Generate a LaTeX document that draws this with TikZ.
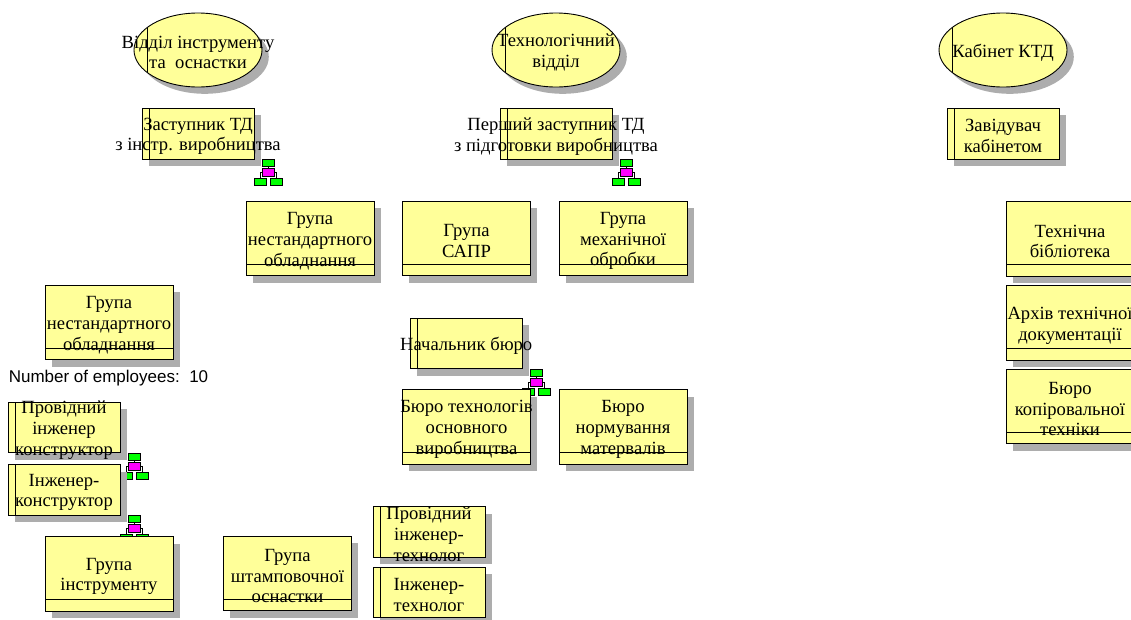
\documentclass[tikz,border=0pt]{standalone}
\usepackage{fontspec}
\setmainfont{Liberation Serif}
\newfontfamily\numfont{Liberation Sans}
\usetikzlibrary{shadows,shapes.geometric}
\definecolor{boxfill}{HTML}{FFFF99}
\definecolor{shadowgray}{HTML}{ADADAD}
\definecolor{icongreen}{HTML}{00FF00}
\definecolor{iconmag}{HTML}{FF00FF}
\tikzset{
  base/.style={draw=black,line width=0.9pt,fill=boxfill,inner sep=0pt,outer sep=0pt,
    general shadow={fill=shadowgray,shadow xshift=6.8pt,shadow yshift=-6.8pt}},
  txt/.style={align=center,inner sep=0pt,yshift=-2.5pt,font=\fontsize{18.6}{20.8}\selectfont,text=black},
  unitnode/.style={base,ellipse,minimum width=128pt,minimum height=74pt,
    path picture={\draw[line width=0.9pt] ([xshift=13.5pt]path picture bounding box.north west) -- ([xshift=13.5pt]path picture bounding box.south west);}},
  headnode/.style={base,rectangle,minimum width=112pt,minimum height=50.5pt,
    path picture={\draw[line width=0.9pt] ([xshift=7pt]path picture bounding box.north west) -- ([xshift=7pt]path picture bounding box.south west);}},
  groupnode/.style={base,rectangle,minimum width=128pt,minimum height=74.5pt,
    path picture={\draw[line width=0.9pt] ([yshift=11.5pt]path picture bounding box.south west) -- ([yshift=11.5pt]path picture bounding box.south east);}},
  ibox/.style={draw=black,line width=0.9pt,inner sep=0pt,outer sep=0pt,minimum width=12pt,minimum height=7.5pt},
  pics/orgicon/.style={code={
    \node[ibox,fill=icongreen] (t) at (0,3.75) {};
    \node[ibox,fill=icongreen] (l) at (-8,23) {};
    \node[ibox,fill=icongreen] (r) at (8.3,23) {};
    \node[ibox,fill=iconmag] (m) at (0,13.5) {};
    \begin{pgfonlayer}{bg}
    \draw[line width=0.9pt] (t) -- (m);
    \draw[line width=0.9pt] (l.north) |- (m.center) -| (r.north);
    \end{pgfonlayer}
  }}
}
\pgfdeclarelayer{bg}
\pgfsetlayers{bg,main}
\begin{document}
\begin{tikzpicture}[x=1pt,y=-1pt]
\useasboundingbox (0,0) rectangle (1131,619);
\pic (ia) at (268.25,159) {orgicon};
\pic (ib) at (626.25,159) {orgicon};
\pic (ic) at (536,369) {orgicon};
\pic (id) at (134,453) {orgicon};
\pic (ie) at (134,515) {orgicon};

\node[unitnode,label={[txt]center:Відділ інструменту\\та\ \ оснастки}] (e1) at (198,50) {};
\node[unitnode,label={[txt]center:Технологічний\\відділ}] (e2) at (556,50) {};
\node[unitnode,label={[txt]center:Кабінет КТД}] (e3) at (1003,50) {};

\node[headnode,label={[txt]center:Заступник ТД\\з інстр. виробництва}] (h1) at (198,133.75) {};
\node[headnode,label={[txt]center:Перший заступник ТД\\з підготовки виробництва}] (h2) at (556,133.75) {};
\node[headnode,label={[txt]center:Завідувач\\кабінетом}] (h3) at (1003,133.75) {};

\node[groupnode,label={[txt]center:Група\\нестандартного\\обладнання}] (g1) at (310,238.5) {};
\node[groupnode,label={[txt]center:Група\\САПР}] (g2) at (466.5,238.5) {};
\node[groupnode,label={[txt]center:Група\\механічної\\обробки}] (g3) at (623,238.5) {};
\node[groupnode,label={[txt]center:Технічна\\бібліотека}] (g4) at (1070,239) {};
\node[groupnode,label={[txt]center:Архів технічної\\документації}] (g5) at (1070,323) {};
\node[groupnode,label={[txt]center:Бюро\\копіровальної\\техніки}] (g6) at (1070,406.5) {};
\node[groupnode,label={[txt]center:Група\\нестандартного\\обладнання}] (g7) at (109,322.5) {};

\node[inner sep=0pt,font=\numfont\fontsize{17}{20}\selectfont] (num) at (108.5,378) {Number of employees:\ \ 10};

\node[headnode,label={[txt]center:Провідний\\інженер\\конструктор}] (h4) at (64,427.5) {};
\node[headnode,label={[txt]center:Інженер-\\конструктор}] (h5) at (64,490) {};
\node[groupnode,label={[txt]center:Група\\інструменту}] (g8) at (109,574) {};
\node[headnode,label={[txt]center:Начальник бюро}] (h6) at (466.25,343.5) {};
\node[groupnode,label={[txt]center:Бюро технологів\\основного\\виробництва}] (g9) at (466.5,427) {};
\node[groupnode,label={[txt]center:Бюро\\нормування\\матервалів}] (g10) at (623,427) {};
\node[groupnode,label={[txt]center:Група\\штамповочної\\оснастки}] (g11) at (287.5,573.5) {};
\node[headnode,label={[txt]center:Провідний\\інженер-\\технолог}] (h7) at (429,532) {};
\node[headnode,label={[txt]center:Інженер-\\технолог}] (h8) at (429,592.5) {};
\end{tikzpicture}
\end{document}
